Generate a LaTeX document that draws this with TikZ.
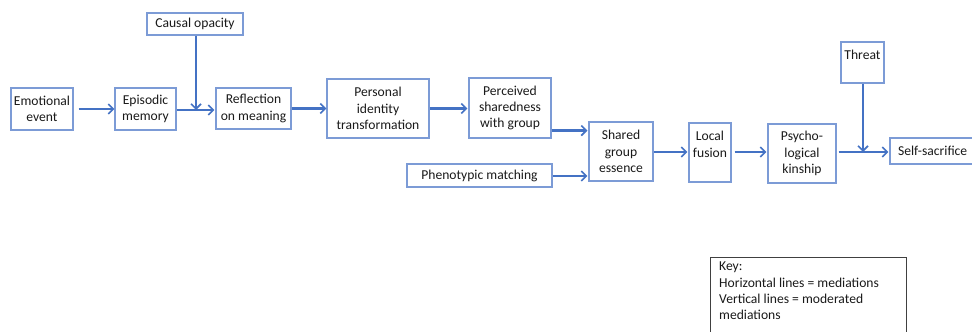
\documentclass[tikz,border=0pt]{standalone}
\usepackage{fontspec}
\setmainfont{Carlito}
\usetikzlibrary{arrows.meta,calc}
\definecolor{arrowblue}{HTML}{4472C4}
\definecolor{boxblue}{HTML}{7C9BD6}
\definecolor{txt}{HTML}{1A1A1A}
\begin{document}
\begin{tikzpicture}[x=1pt,y=-1pt,
  bx/.style={draw=boxblue,line width=1.2pt,fill=white,inner sep=0pt,align=center,
     text=txt,font=\fontsize{13.6}{16.3}\selectfont},
  arr/.style={draw=arrowblue,line width=1.8pt,-{Straight Barb[length=5pt,width=10pt,line width=1.6pt]}},
  thick arr/.style={arr,line width=2.5pt}]
\useasboundingbox (0,0) rectangle (972,332);
\fill[white] (0,0) rectangle (972,332);
\node[bx,minimum width=62pt,minimum height=42pt] (emo) at (42,109) {Emotional\\event};
\node[bx,minimum width=61pt,minimum height=42pt] (epi) at (145.5,109) {Episodic\\memory};
\node[bx,minimum width=96pt,minimum height=22pt] (cau) at (195,24) {Causal opacity};
\node[bx,minimum width=75pt,minimum height=41pt] (ref) at (253.5,108.5) {Reflection\\on meaning};
\node[bx,minimum width=102pt,minimum height=59pt] (pit) at (378,108.5) {Personal\\identity\\transformation};
\node[bx,minimum width=82pt,minimum height=60pt] (per) at (510,108) {Perceived\\sharedness\\with group};
\node[bx,minimum width=64pt,minimum height=59pt] (sge) at (621,151.5) {Shared\\group\\essence};
\node[bx,minimum width=145pt,minimum height=23pt] (phe) at (479.5,175.5) {Phenotypic matching};
\node[bx,minimum width=42pt,minimum height=59pt] (lf) at (710,152.5) {Local\\fusion\\~};
\node[bx,minimum width=68pt,minimum height=59pt] (pk) at (802,153.5) {Psycho-\\logical\\kinship};
\node[bx,minimum width=43pt,minimum height=41pt] (thr) at (862.5,62.5) {Threat\\~};
\node[bx,minimum width=92pt,minimum height=26pt,text width=92pt,align=left] (ss) at (936,151) {\hspace*{8pt}Self-sacrifice};
\node[draw=black!75,line width=1pt,minimum width=196pt,minimum height=90pt,inner sep=0pt] (key) at (808,302) {};
\node[anchor=north west,align=left,inner sep=0pt,text=txt,font=\fontsize{13.6}{16.3}\selectfont] (keytext) at (719,262)
  {Key:\\Horizontal lines = mediations\\Vertical lines = moderated\\mediations};
% connectors
\draw[arr] ([xshift=5pt]emo.east) -- (epi.west);
\coordinate (m1) at (196,110);
\draw[arr] (epi.east |- m1) -- ([xshift=-1pt]ref.west |- m1);
\draw[arr] (cau.south -| m1) -- (m1);
\draw[thick arr] (ref.east) -- (pit.west);
\draw[thick arr] (pit.east) -- ([xshift=-1pt]per.west |- pit.east);
\coordinate (p1) at ([yshift=8pt]per.south east);
\draw[thick arr] (p1) -- ([xshift=-1pt]p1 -| sge.west);
\coordinate (p2) at (phe.east |- 0,176);
\draw[arr] (p2) -- ([xshift=-1pt]p2 -| sge.west);
\coordinate (p3) at (sge.east |- 0,152);
\draw[arr] (p3) -- ([xshift=-1pt]p3 -| lf.west);
\coordinate (p4) at ([xshift=3pt]lf.east |- 0,152);
\draw[thick arr] (p4) -- ([xshift=-1pt]p4 -| pk.west);
\coordinate (p5) at ([xshift=2pt]pk.east |- 0,152);
\coordinate (m2) at (863,152);
\draw[arr] (p5) -- ([xshift=-1pt]p5 -| ss.west);
\draw[arr] (thr.south -| m2) -- (m2);
\end{tikzpicture}
\end{document}
